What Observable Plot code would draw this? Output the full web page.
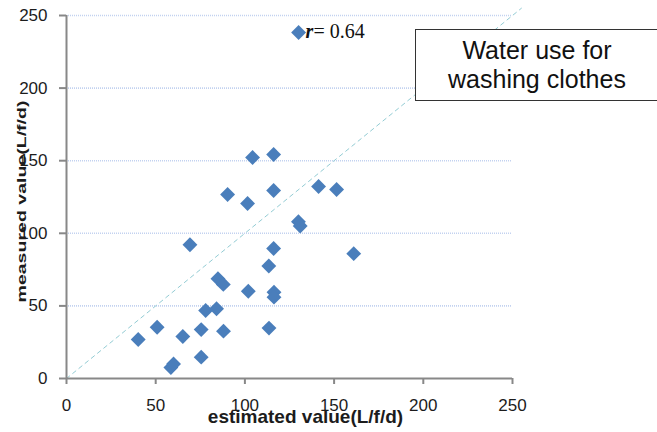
<!DOCTYPE html>
<html>
<head>
<meta charset="utf-8">
<script src="https://cdn.jsdelivr.net/npm/d3@7"></script>
<script src="https://cdn.jsdelivr.net/npm/@observablehq/plot@0.6"></script>
<style>
  html, body { margin: 0; padding: 0; background: #fff; }
  #wrap { position: relative; width: 657px; height: 432px; overflow: hidden; }
  #wrap svg { position: absolute; left: 0; top: 0; }
  #box {
    position: absolute; left: 415px; top: 29px; width: 244px; height: 72px;
    border: 1px solid #333; background: #fff; box-sizing: border-box;
    font-family: "Liberation Sans", Arial, sans-serif; font-size: 25px; line-height: 29px;
    text-align: center; color: #111; padding-top: 6px;
  }
</style>
</head>
<body>
<div id="wrap"></div>
<script>
// Data
const estimated = [130.1, 104.3, 116.1, 90.3, 101.5, 116.1, 141.3, 151.4, 130.0, 131.0,
                   116.1, 161.0, 113.4, 69.2, 84.9, 87.9, 78.0, 84.1, 50.8, 40.2,
                   65.2, 75.5, 88.0, 58.5, 60.0, 75.5, 101.9, 116.3, 116.3, 113.5];
const measured  = [238.3, 152.2, 154.3, 126.7, 120.5, 129.5, 132.2, 130.2, 108.0, 105.0,
                   89.5, 86.0, 77.5, 92.1, 68.7, 64.8, 46.8, 48.0, 35.3, 26.9,
                   28.9, 33.7, 32.6, 7.5, 10.0, 14.7, 60.1, 59.4, 56.0, 34.7];
const ticks = [0, 50, 100, 150, 200, 250];
const gridValues = [50, 100, 150, 200, 250];
const refLine = [0, 255];          // y = x reference line
const rLabel = {x: 134, y: 238.6}; // position of the r annotation
const rText = "= 0.64";
const xTitle = "estimated value(L/f/d)";
const yTitle = "measured value(L/f/d)";
const boxLines = ["Water use for", "washing clothes"];

const points = estimated.map((e, i) => ({x: e, y: measured[i]}));
const ref = refLine.map(v => ({x: v, y: v}));

const axisColor = "#888888";
const font = "Liberation Sans, Arial, sans-serif";

const plot = Plot.plot({
  width: 657,
  height: 432,
  marginLeft: 66,
  marginRight: 145,
  marginTop: 15,
  marginBottom: 54,
  style: {fontFamily: font, background: "white", overflow: "visible"},
  x: {domain: [0, 250]},
  y: {domain: [0, 250]},
  marks: [
    Plot.ruleY(gridValues, {stroke: "#c3d2f0", strokeWidth: 1.6, strokeDasharray: "1,1"}),
    Plot.line(ref, {x: "x", y: "y", stroke: "#93ccd4", strokeWidth: 1, strokeDasharray: "4,4"}),
    Plot.axisY({ticks: ticks, tickSize: 7, tickPadding: 12, stroke: axisColor, strokeWidth: 2,
                fill: "#1c1c1c", fontSize: 17, label: null}),
    Plot.axisX({ticks: ticks, tickSize: 6, tickPadding: 14, stroke: axisColor, strokeWidth: 2,
                fill: "#1c1c1c", fontSize: 17, label: null}),
    Plot.ruleX([0], {stroke: axisColor, strokeWidth: 2}),
    Plot.ruleY([0], {stroke: axisColor, strokeWidth: 2}),
    Plot.dot(points, {x: "x", y: "y", symbol: "diamond2", r: 6.7, fill: "#4a7ebb", stroke: "none"}),
    Plot.text([rLabel], {x: "x", y: "y", text: () => "r", textAnchor: "start",
                         fontFamily: "Liberation Serif, Times New Roman, serif", fontStyle: "italic",
                         fontWeight: "bold", fontSize: 20, fill: "#111"}),
    Plot.text([rLabel], {x: "x", y: "y", text: () => rText, textAnchor: "start", dx: 8,
                         fontFamily: "Liberation Serif, Times New Roman, serif",
                         fontSize: 20, fill: "#111"}),
    Plot.text([xTitle], {frameAnchor: "bottom", text: d => d, textAnchor: "middle", dx: 16, dy: 38,
                         fontWeight: "bold", fontSize: 19, fill: "#1c1c1c", lineAnchor: "middle"}),
    Plot.text([yTitle], {frameAnchor: "left", text: d => d, textAnchor: "middle", rotate: -90,
                         dx: -44.5, dy: 4.5,
                         fontWeight: "bold", fontSize: 13.5, fill: "#1c1c1c", lineAnchor: "middle"})
  ]
});

// the reference's vertical title is drawn stretched along its length
d3.select(plot).selectAll("text")
  .filter(function() { return this.textContent === yTitle; })
  .attr("textLength", 202)
  .attr("lengthAdjust", "spacingAndGlyphs");

const wrap = document.getElementById("wrap");
wrap.appendChild(plot);
const box = document.createElement("div");
box.id = "box";
box.innerHTML = boxLines.join("<br>");
wrap.appendChild(box);
</script>
</body>
</html>
